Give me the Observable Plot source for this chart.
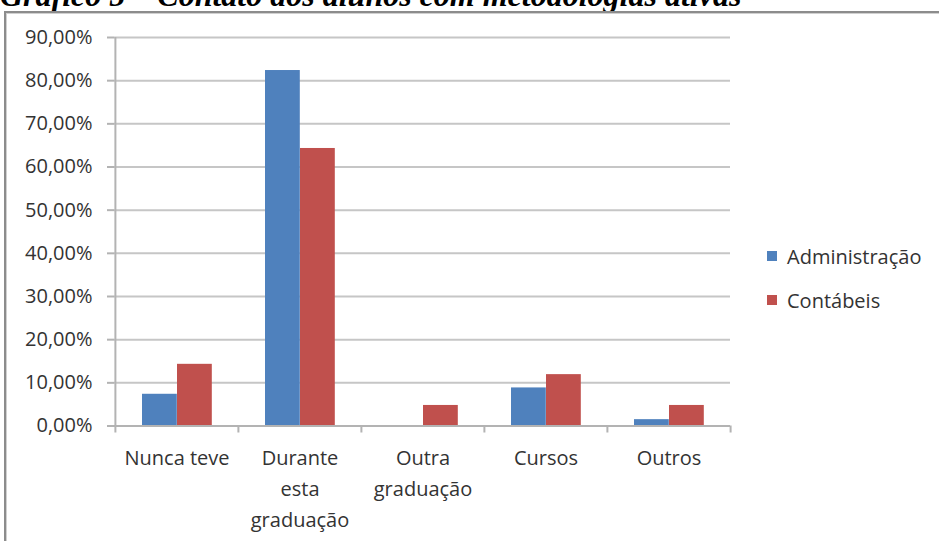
<!DOCTYPE html>
<html>
<head>
<meta charset="utf-8">
<script src="https://cdn.jsdelivr.net/npm/d3@7"></script>
<script src="https://cdn.jsdelivr.net/npm/@observablehq/plot@0.6"></script>
<style>
  html, body { margin: 0; padding: 0; background: #fff; overflow: hidden; }
  #wrap { position: relative; width: 939px; height: 541px; overflow: hidden; background: #fff; }
  #title { position: absolute; left: 0px; top: -23px; line-height: 1; white-space: nowrap;
           font: italic bold 32px "Liberation Serif", "DejaVu Serif", serif; color: #000; }
  #box { position: absolute; left: 4px; top: 11px; width: 1000px; height: 600px;
         border-left: 2px solid #8c8c8c; border-top: 2px solid #8c8c8c;
         box-shadow: inset 1px 1px 0 #d0d0d0; }
  #chart { position: absolute; left: 0; top: 0; }
  #legend { position: absolute; left: 767px; top: 0; font: 20px "Open Sans", sans-serif; color: #333; }
  .item { position: absolute; left: 0; white-space: nowrap; display: flex; align-items: center; }
  .sw { width: 10px; height: 10px; margin-right: 10px; }
</style>
</head>
<body>
<div id="wrap">
  <div id="title">Gráfico 5 – Contato dos alunos com metodologias ativas</div>
  <div id="box"></div>
  <div id="chart"></div>
  <div id="legend"></div>
</div>
<script>
// ---- data ----
const categories = ["Nunca teve", "Durante\nesta\ngraduação", "Outra\ngraduação", "Cursos", "Outros"];
const series = ["Administração", "Contábeis"];
const administracao = [7.35, 82.35, 0, 8.82, 1.47];
const contabeis = [14.29, 64.29, 4.76, 11.90, 4.76];
const yTicks = [0, 10, 20, 30, 40, 50, 60, 70, 80, 90];
const colors = ["#4F81BD", "#C0504D"];

// ---- layout ----
const W = 939, H = 541;
const mL = 114, mR = 939 - 730, mT = 37, mB = 541 - 425.5;
const bw = (W - mL - mR) / categories.length;

const adm = categories.map((c, i) => ({cat: c, v: administracao[i]}));
const con = categories.map((c, i) => ({cat: c, v: contabeis[i]}));

const fmt = d => d.toFixed(2).replace(".", ",") + "%";
const axisColor = "#b3b3b3";
const textColor = "#333";

const chart = Plot.plot({
  width: W, height: H,
  marginLeft: mL, marginRight: mR, marginTop: mT, marginBottom: mB,
  style: {background: "transparent", fontFamily: "'Open Sans', sans-serif", fontSize: "20px", color: textColor, overflow: "visible"},
  x: {domain: categories, padding: 0, axis: null, label: null},
  y: {domain: [0, 90], axis: null, label: null},
  marks: [
    Plot.gridY(yTicks, {stroke: "#c6c6c6", strokeOpacity: 1, strokeWidth: 2}),
    Plot.barY(adm, {x: "cat", y: "v", fill: colors[0], insetLeft: 27, insetRight: bw - 27 - 35}),
    Plot.barY(con, {x: "cat", y: "v", fill: colors[1], insetLeft: 62, insetRight: bw - 62 - 35}),
    Plot.ruleY([0], {stroke: axisColor, strokeWidth: 2}),
    Plot.ruleX([categories[0]], {dx: -bw / 2, stroke: axisColor, strokeWidth: 2}),
    Plot.axisY(yTicks, {tickSize: 7, tickPadding: 15, tickFormat: fmt, label: null, stroke: axisColor, strokeWidth: 2, fill: textColor, fontSize: 20}),
    Plot.axisX(categories, {tickSize: 7, tickFormat: () => "", label: null, dx: -bw / 2, stroke: axisColor, strokeWidth: 2}),
    Plot.axisX([categories[categories.length - 1]], {tickSize: 7, tickFormat: () => "", label: null, dx: bw / 2, stroke: axisColor, strokeWidth: 2}),
    Plot.axisX(categories, {tickSize: 0, tickPadding: 17, lineHeight: 1.55, label: null, fill: textColor, fontSize: 20})
  ]
});
document.getElementById("chart").appendChild(chart);

// ---- legend ----
const legendY = [256, 300];
const legend = d3.select("#legend");
series.forEach((s, i) => {
  const it = legend.append("div").attr("class", "item").style("top", (legendY[i] - 14) + "px").style("height", "28px");
  it.append("div").attr("class", "sw").style("background", colors[i]);
  it.append("span").text(s);
});
</script>
</body>
</html>
